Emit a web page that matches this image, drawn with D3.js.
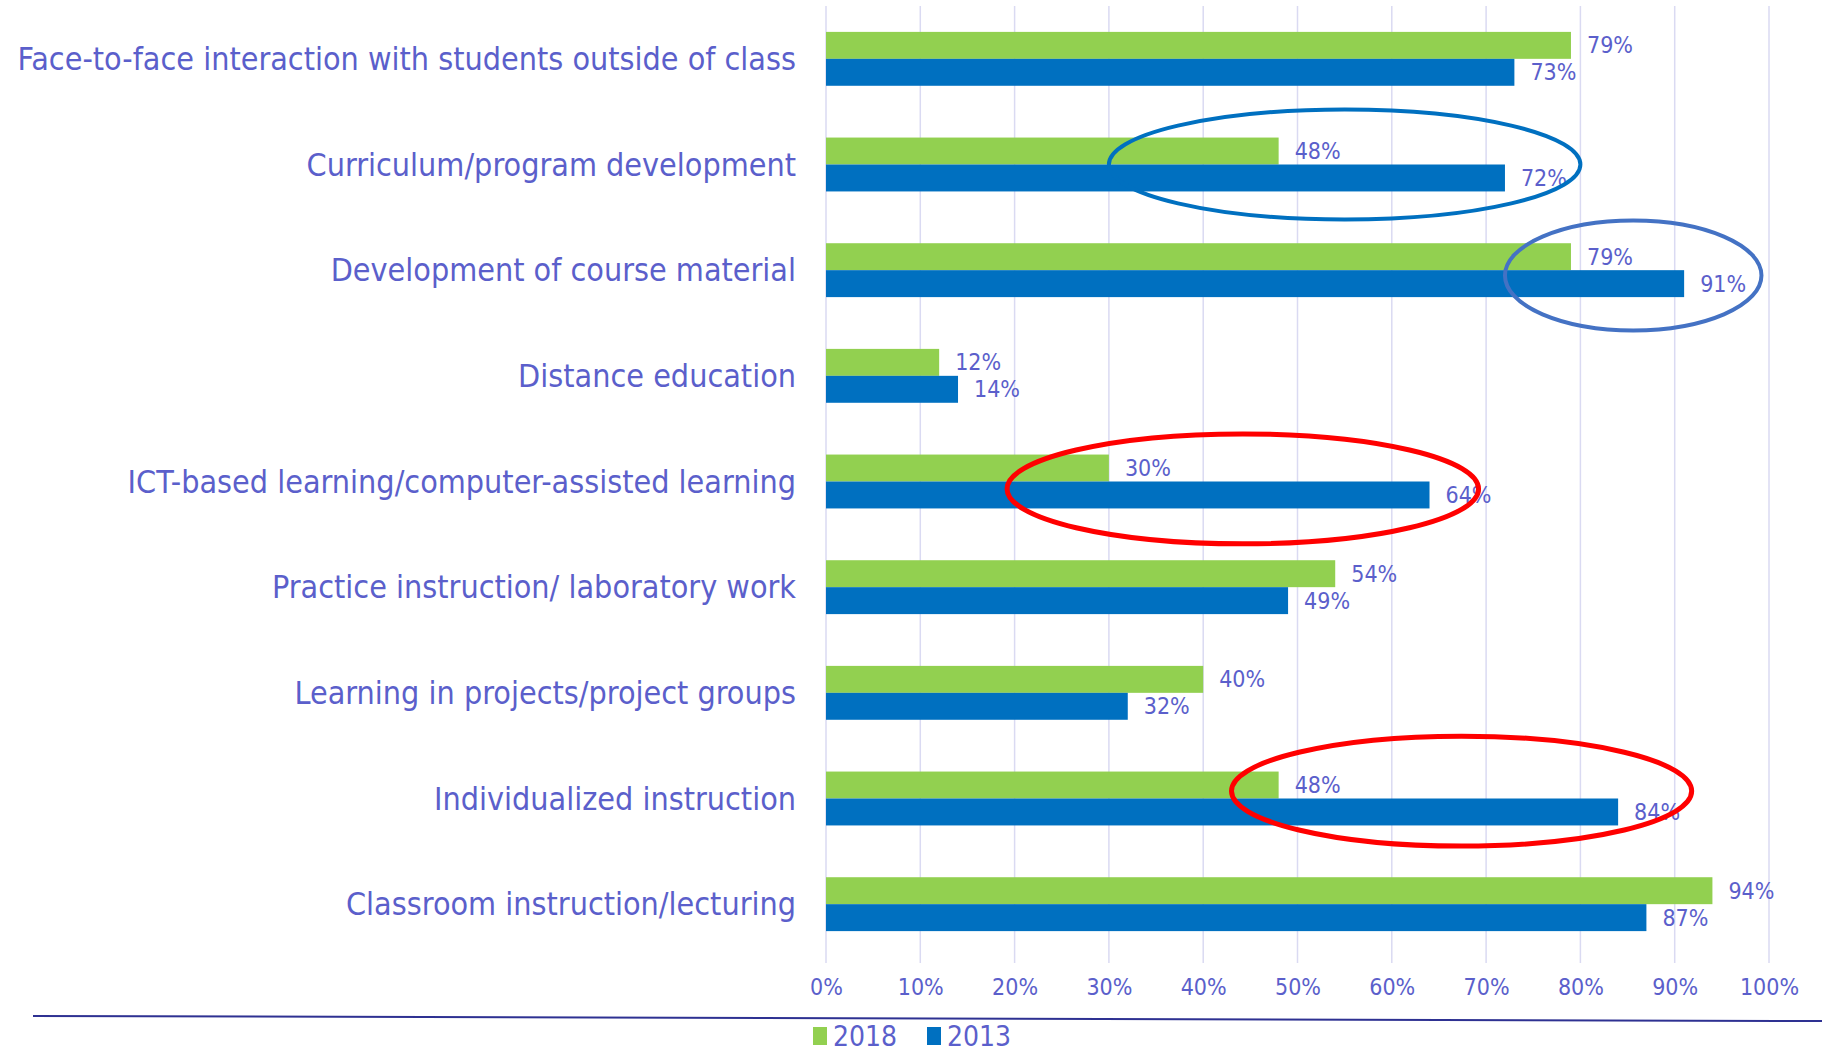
<!DOCTYPE html>
<html>
<head>
<meta charset="utf-8">
<script src="https://cdn.jsdelivr.net/npm/d3@7"></script>
<style>
  html, body { margin: 0; padding: 0; background: #fff; }
  #chart { width: 1822px; height: 1055px; }
</style>
</head>
<body>
<div id="chart"></div>
<script>
// Kategorier (oppefra og ned) og værdier i procent
const categories = [
  "Face-to-face interaction with students outside of class",
  "Curriculum/program development",
  "Development of course material",
  "Distance education",
  "ICT-based learning/computer-assisted learning",
  "Practice instruction/ laboratory work",
  "Learning in projects/project groups",
  "Individualized instruction",
  "Classroom instruction/lecturing"
];
const values2018 = [79, 48, 79, 12, 30, 54, 40, 48, 94];
const values2013 = [73, 72, 91, 14, 64, 49, 32, 84, 87];
const seriesNames = ["2018", "2013"];
const tickValues = [0, 10, 20, 30, 40, 50, 60, 70, 80, 90, 100];

// Markeringer (ellipser) tegnet oven på grafen
const markCategory = [1, 2, 4, 7];
const markCenter = [55, 85.6, 44.2, 67.4];   // i procent
const markShift = [0, 0.05, 0.07, -0.07];     // andel af båndet
const markRadiusX = [25, 13.6, 25, 24.4];    // i procent
const markColor = ["#0070C0", "#4472C4", "#FF0000", "#FF0000"];

const colors = { "2018": "#92D050", "2013": "#0070C0" };
const textColor = "#5B5FCB";
const font = "'Liberation Sans Narrow', 'DejaVu Sans Condensed', sans-serif";

const W = 1822, H = 1055;
const margin = { top: 6, right: 53, bottom: 98, left: 826 };
const width = W - margin.left - margin.right,
      height = H - margin.top - margin.bottom;

const svg = d3.select("#chart").append("svg")
  .attr("width", W).attr("height", H)
  .style("font-family", font);

const g = svg.append("g").attr("transform", `translate(${margin.left},${margin.top})`);

const x = d3.scaleLinear().domain([0, 100]).range([0, width]);
const y = d3.scaleBand().domain(categories).range([0, height]).paddingInner(0.49).paddingOuter(0.245);
const ySub = d3.scaleBand().domain(seriesNames).range([0, y.bandwidth()]);

// Lodrette gitterlinjer
g.append("g")
  .selectAll("line")
  .data(tickValues)
  .join("line")
  .attr("x1", d => x(d)).attr("x2", d => x(d))
  .attr("y1", 0).attr("y2", height + 6)
  .attr("stroke", "#DADAF2").attr("stroke-width", 1.5);

// X-akse tekster
g.append("g")
  .attr("transform", `translate(0,${height + 6})`)
  .call(d3.axisBottom(x).tickValues(tickValues).tickFormat(d => d + "%").tickSize(0).tickPadding(16))
  .call(a => a.select(".domain").remove())
  .selectAll("text")
  .style("font-family", font)
  .style("font-size", "23px")
  .attr("fill", textColor);

const data = categories.map((c, i) => ({ cat: c, "2018": values2018[i], "2013": values2013[i] }));

// Søjler og værdier
const groups = g.selectAll(".grp").data(data).join("g")
  .attr("class", "grp")
  .attr("transform", d => `translate(0,${y(d.cat)})`);

seriesNames.forEach(s => {
  groups.append("rect")
    .attr("x", 0)
    .attr("y", ySub(s))
    .attr("width", d => x(d[s]))
    .attr("height", ySub.bandwidth())
    .attr("fill", colors[s]);

  groups.append("text")
    .attr("x", d => x(d[s]) + 16)
    .attr("y", ySub(s) + ySub.bandwidth() / 2)
    .attr("dy", "0.35em")
    .attr("fill", textColor)
    .style("font-size", "23px")
    .text(d => d[s] + "%");
});

// Kategorinavne
g.append("g")
  .selectAll("text")
  .data(categories)
  .join("text")
  .attr("x", -30)
  .attr("y", d => y(d) + y.bandwidth() / 2)
  .attr("dy", "0.35em")
  .attr("text-anchor", "end")
  .attr("fill", textColor)
  .style("font-size", "32px")
  .text(d => d);

// Ellipser
markCategory.forEach((ci, i) => {
  const cat = categories[ci];
  g.append("ellipse")
    .attr("cx", x(markCenter[i]))
    .attr("cy", y(cat) + y.bandwidth() / 2 + markShift[i] * y.step())
    .attr("rx", x(markRadiusX[i]))
    .attr("ry", y.step() * 0.52)
    .attr("fill", "none")
    .attr("stroke", markColor[i])
    .attr("stroke-width", markColor[i] === "#FF0000" ? 5 : 4);
});

// Vandret linje under aksen
svg.append("line")
  .attr("x1", 33).attr("x2", W)
  .attr("y1", 1016).attr("y2", 1021)
  .attr("stroke", "#2E3192").attr("stroke-width", 2);

// Forklaring
const legend = svg.append("g").attr("transform", "translate(813,1036)");
seriesNames.forEach((s, i) => {
  const lg = legend.append("g").attr("transform", `translate(${i * 114},0)`);
  lg.append("rect").attr("x", 0).attr("y", -9).attr("width", 14).attr("height", 18).attr("fill", colors[s]);
  lg.append("text").attr("x", 20).attr("y", 0).attr("dy", "0.35em")
    .attr("fill", textColor).style("font-size", "28px").text(s);
});
</script>
</body>
</html>
